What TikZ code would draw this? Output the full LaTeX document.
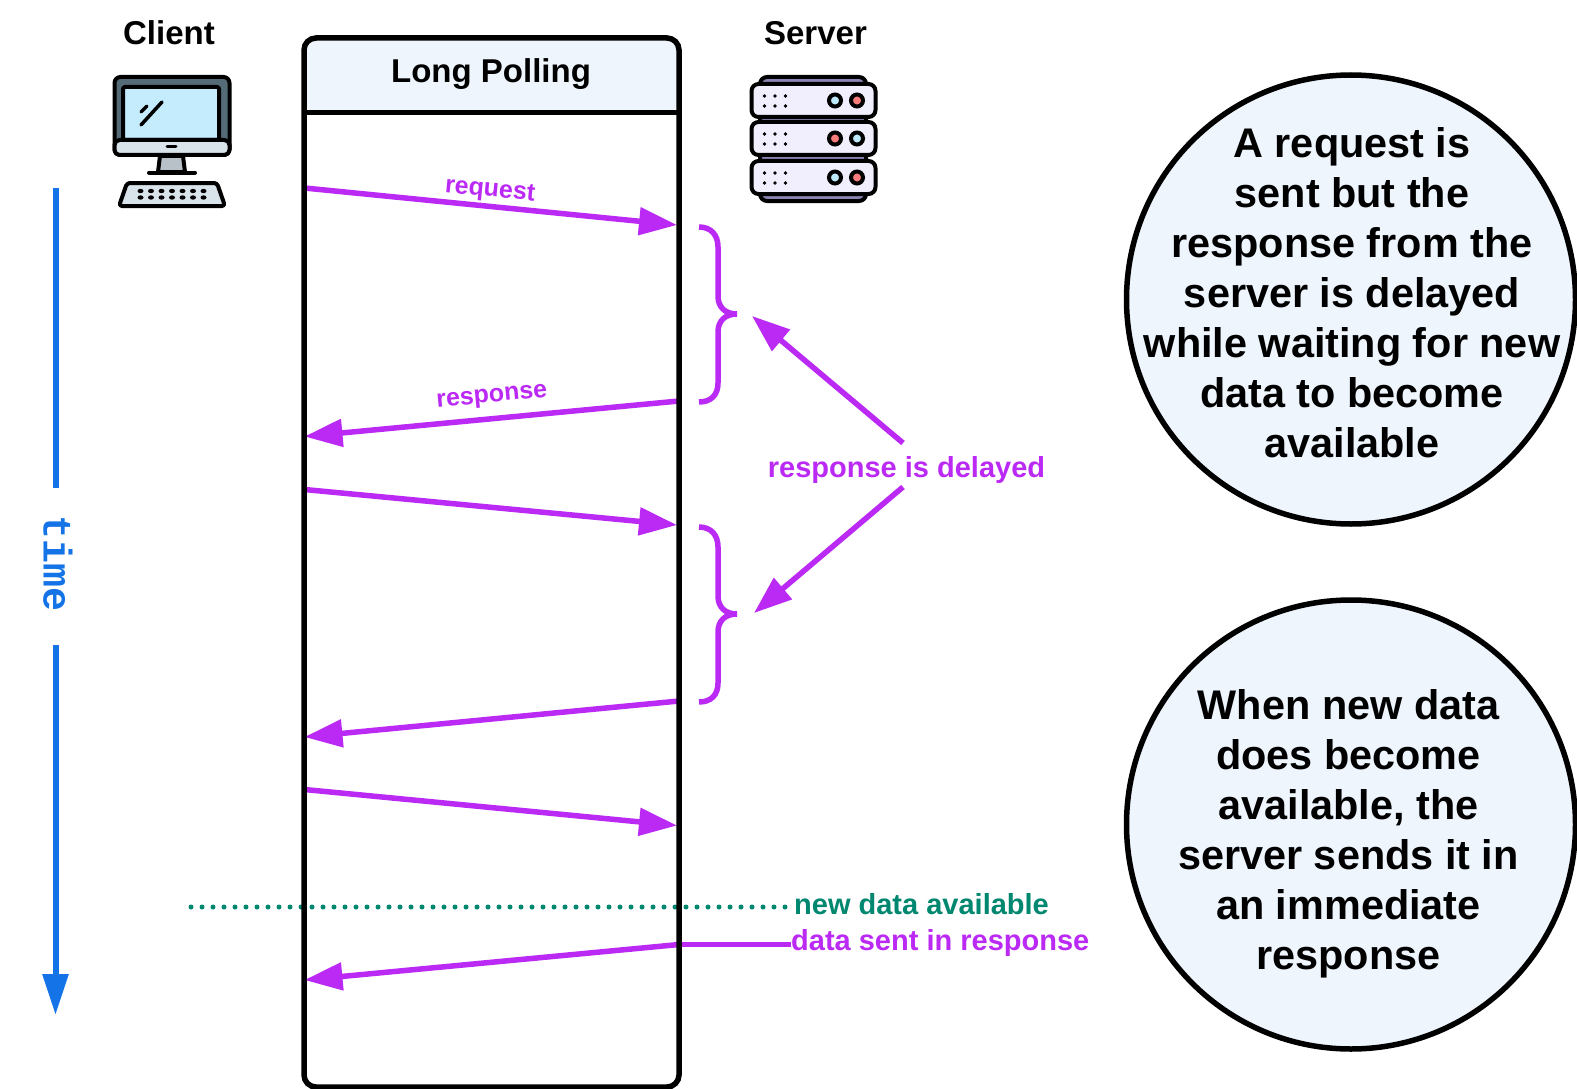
\documentclass[tikz,border=0pt]{standalone}
\usepackage{fontspec}
\setmainfont{Liberation Sans}
\newfontfamily\timefont{Liberation Mono}
\usetikzlibrary{arrows.meta}
\definecolor{vio}{HTML}{BB2AF5}
\definecolor{teal2}{HTML}{00876F}
\definecolor{blue2}{HTML}{1473E6}
\definecolor{pale}{HTML}{EEF5FD}
\definecolor{rackc}{HTML}{F1EFFE}
\definecolor{rackb}{HTML}{8A83B3}
\definecolor{scr}{HTML}{C4ECFD}
\definecolor{bez}{HTML}{566B78}
\definecolor{gry}{HTML}{D9E3EA}
\definecolor{ledb}{HTML}{BCE9FB}
\definecolor{ledr}{HTML}{F97C7C}
\tikzset{
 msg/.style={draw=vio,line width=5.5pt,-{Triangle[length=38pt,width=27pt]}},
 brc/.style={draw=vio,line width=5.5pt},
 lbl/.style={font=\bfseries\fontsize{29}{32}\selectfont,inner sep=0pt},
 small/.style={font=\bfseries\fontsize{25}{27}\selectfont,inner sep=0pt,text=vio},
 head/.style={font=\bfseries\fontsize{33}{36}\selectfont,inner sep=0pt},
 bub/.style={circle,draw=black,line width=5.5pt,fill=pale,minimum size=449pt,inner sep=0pt},
 bubtxt/.style={font=\bfseries\fontsize{41.4}{50}\selectfont,align=center,inner sep=0pt},
 ic/.style={draw=black,line width=4pt,line join=round},
}
\begin{document}
\begin{tikzpicture}[x=1pt,y=-1pt]
\useasboundingbox (0,0) rectangle (1577,1089);
\fill[white] (0,0) rectangle (1577,1089);
% main box header
\fill[pale,rounded corners=12pt] (304,38) rectangle (679,112);
\node[head] (title) at (491,74) {Long Polling};
\node[head] (client) at (169,33) {Client};
\node[head] (server) at (815.5,33) {Server};
% client icon
\draw[ic,fill=bez,rounded corners=6pt] (114.5,77) rectangle (229.5,155);
\draw[ic,fill=scr,rounded corners=2pt] (123,87) rectangle (219,140);
\draw[ic,fill=gry,rounded corners=5pt] (114.5,140) -- (229.5,140) -- (229.5,155) -- (114.5,155) -- cycle;
\draw[line width=3pt,line cap=round] (167,147) -- (176,147);
\draw[ic,fill=gry!85!black] (160,156) -- (183,156) -- (185,172) -- (158,172) -- cycle;
\draw[line width=4pt,line cap=round] (149,172.5) -- (195,172.5);
\draw[ic,fill=gry,rounded corners=3pt] (127,183) -- (217,183) -- (225,206) -- (119,206) -- cycle;
\foreach \yy in {191,197.5}
  \foreach \xx in {140.5,151,161.5,172,182.5,193,203.5}
    \fill (\xx,\yy) ellipse (3pt and 2.2pt);
\draw[line width=3.5pt,line cap=round] (141,125) -- (162,102);
\draw[line width=3.5pt,line cap=round] (141,112) -- (147,106);
% server icon
\draw[ic,fill=rackb,rounded corners=7pt] (760,77) rectangle (866,201);
\foreach \ty/\ca/\cb in {84/ledb/ledr,122/ledr/ledb,161/ledb/ledr}{
  \draw[ic,fill=rackc,rounded corners=7pt] (751.5,\ty) rectangle (875.5,\ty+33);
  \foreach \xx in {764.5,775,785.5}{
    \fill (\xx,\ty+12) circle (1.8pt);
    \fill (\xx,\ty+22) circle (1.8pt);
  }
  \draw[line width=4pt,fill=\ca] (835,\ty+16.5) circle (6pt);
  \draw[line width=4pt,fill=\cb] (857,\ty+16.5) circle (6pt);
}
% time axis
\coordinate (t0) at (55.5,188);
\coordinate (t1) at (55.5,488);
\coordinate (t2) at (55.5,645);
\coordinate (t3) at (55.5,1015);
\draw[draw=blue2,line width=6pt] (t0) -- (t1);
\draw[draw=blue2,line width=6pt,-{Triangle[length=41pt,width=25pt]}] (t2) -- (t3);
\node[font=\timefont\bfseries\fontsize{40}{40}\selectfont,text=blue2,rotate=-90,inner sep=0pt] (time) at (58,564) {time};
% lifeline anchors
\coordinate (c1) at (304.5,188);  \coordinate (s1) at (677,225);
\coordinate (s2) at (679,401);  \coordinate (c2) at (304.5,436.5);
\coordinate (c3) at (304.5,489.5);  \coordinate (s3) at (677,525);
\coordinate (s4) at (679,701);  \coordinate (c4) at (304.5,737);
\coordinate (c5) at (304.5,789.5);  \coordinate (s5) at (677,825.5);
\coordinate (s6) at (679,944.5);  \coordinate (c6) at (304.5,980);
% bottom labels
\node[lbl,text=teal2,anchor=west] (newd) at (794,904) {new data available};
\node[lbl,text=vio,anchor=west] (sent) at (791,943) {data sent in response};
\coordinate (dots) at (191,907);
\draw[draw=teal2,line width=5pt,line cap=round,dash pattern=on 0pt off 11pt] (dots) -- (newd.west |- dots);
\draw[draw=vio,line width=5.5pt] (s6) -- (sent.west |- s6);
\draw[msg] (c1) -- (s1);
\draw[msg] (s2) -- (c2);
\draw[msg] (c3) -- (s3);
\draw[msg] (s4) -- (c4);
\draw[msg] (c5) -- (s5);
\draw[msg] (s6) -- (c6);
% main box outline, over the connector ends
\draw[line width=5.5pt,rounded corners=12pt] (304,38) rectangle (679,1087);
\draw[line width=5.5pt] (304,112.5) -- (679,112.5);
\node[small,rotate=-5.5] (req) at (490,191) {request};
\node[small,rotate=5.5] (resp) at (492,398) {response};
% braces
\foreach \dy/\nm in {0/b1,300/b2}{
  \coordinate (\nm) at (737,314+\dy);
  \draw[brc] (699,227+\dy) .. controls (711,227+\dy) and (718,235+\dy) .. (718,247+\dy) -- (718,296+\dy)
    .. controls (718,307+\dy) and (725,314+\dy) .. (737,314+\dy)
    .. controls (725,314+\dy) and (718,321+\dy) .. (718,332+\dy) -- (718,383+\dy)
    .. controls (718,395+\dy) and (711,402+\dy) .. (699,402+\dy);
}
\node[lbl,text=vio] (delay) at (906.5,470) {response is delayed};
\coordinate (d1) at (903,443);
\coordinate (d2) at (903,487);
\coordinate (h1) at (752,316);
\coordinate (h2) at (754,613);
\draw[msg] (d1) -- (h1);
\draw[msg] (d2) -- (h2);
% bubbles
\node[bub] (bub1) at (1351,299.5) {};
\node[bubtxt] (txt1) at (1352,293) {A request is\\sent but the\\response from the\\server is delayed\\while waiting for new\\data to become\\available};
\node[bub] (bub2) at (1351,824.5) {};
\node[bubtxt] (txt2) at (1348.5,834) {When new data\\does become\\available, the\\server sends it in\\an immediate\\response};
\end{tikzpicture}
\end{document}
